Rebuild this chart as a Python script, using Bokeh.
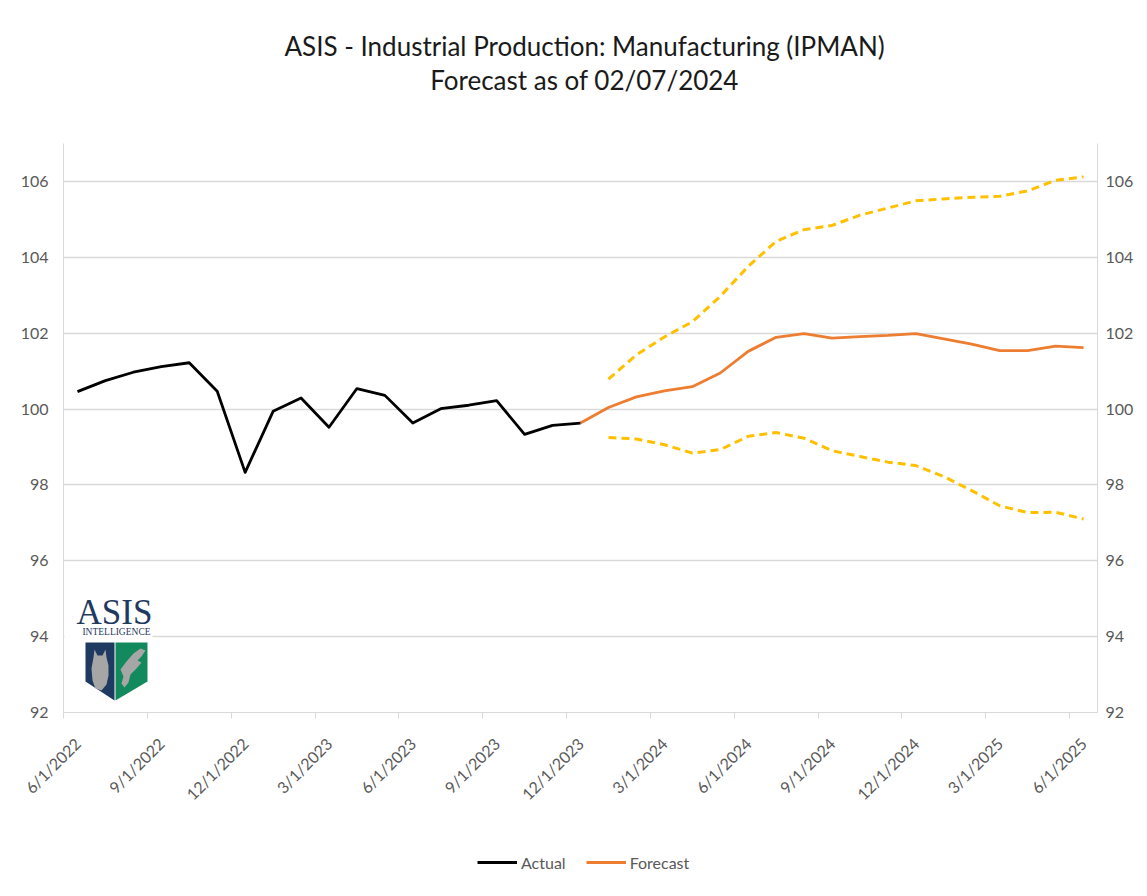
import math
import pandas as pd
from bokeh.plotting import figure
from bokeh.layouts import column
from bokeh.models import (FixedTicker, LinearAxis, Range1d, Legend, LegendItem,
                          BoxAnnotation, Label, PolyAnnotation)
from bokeh.embed import file_html
from bokeh.resources import INLINE

# ---------------- data ----------------
actual_dates = ["2022-06-01", "2022-07-01", "2022-08-01", "2022-09-01", "2022-10-01",
                "2022-11-01", "2022-12-01", "2023-01-01", "2023-02-01", "2023-03-01",
                "2023-04-01", "2023-05-01", "2023-06-01", "2023-07-01", "2023-08-01",
                "2023-09-01", "2023-10-01", "2023-11-01", "2023-12-01"]
actual_values = [100.46, 100.75, 100.97, 101.12, 101.22, 100.47, 98.33, 99.94, 100.29,
                 99.52, 100.54, 100.36, 99.63, 100.01, 100.10, 100.22, 99.33, 99.57, 99.63]

forecast_dates = ["2023-12-01", "2024-01-01", "2024-02-01", "2024-03-01", "2024-04-01",
                  "2024-05-01", "2024-06-01", "2024-07-01", "2024-08-01", "2024-09-01",
                  "2024-10-01", "2024-11-01", "2024-12-01", "2025-01-01", "2025-02-01",
                  "2025-03-01", "2025-04-01", "2025-05-01", "2025-06-01"]
forecast_values = [99.63, 100.04, 100.32, 100.48, 100.59, 100.95, 101.52, 101.89, 101.99,
                   101.87, 101.91, 101.94, 101.99, 101.85, 101.71, 101.54, 101.54, 101.66, 101.62]

bound_dates = forecast_dates[1:]
upper_values = [100.79, 101.43, 101.90, 102.30, 102.97, 103.76, 104.42, 104.73, 104.84,
                105.11, 105.30, 105.49, 105.54, 105.58, 105.61, 105.75, 106.03, 106.12]
lower_values = [99.25, 99.21, 99.06, 98.84, 98.93, 99.28, 99.38, 99.23, 98.90,
                98.75, 98.60, 98.51, 98.22, 97.85, 97.45, 97.27, 97.28, 97.10]

tick_labels = ["6/1/2022", "9/1/2022", "12/1/2022", "3/1/2023", "6/1/2023", "9/1/2023",
               "12/1/2023", "3/1/2024", "6/1/2024", "9/1/2024", "12/1/2024", "3/1/2025",
               "6/1/2025"]
y_ticks = [92, 94, 96, 98, 100, 102, 104, 106]

title_line1 = "ASIS - Industrial Production: Manufacturing (IPMAN)"
title_line2 = "Forecast as of 02/07/2024"
legend_labels = ["Actual", "Forecast"]

# ---------------- helpers ----------------
START = pd.Timestamp("2022-06-01")


def month_pos(dates):
    # monthly slot centre, Excel date-axis style
    out = []
    for d in dates:
        t = pd.Timestamp(d)
        out.append((t.year - START.year) * 12 + (t.month - START.month) + 0.5)
    return out


tick_dates = [START + pd.DateOffset(months=3 * i) for i in range(len(tick_labels))]
label_pos = month_pos(tick_dates)            # labels sit at the slot centre
tick_pos = [v - 0.5 for v in label_pos]      # tick marks at the slot boundary

FONT = "Lato"
GRAY = "#595959"
LIGHT = "#d9d9d9"
W = 1147
TITLE_H = 133
MAIN_H = 707
LEG_H = 56

# ---------------- title block ----------------
tf = figure(width=W, height=TITLE_H, output_backend="svg", toolbar_location=None,
            x_range=Range1d(0, W), y_range=Range1d(0, TITLE_H),
            x_axis_type=None, y_axis_type=None, min_border=0)
tf.outline_line_color = None
tf.grid.visible = False
for txt, yc in ((title_line1, TITLE_H - 45), (title_line2, TITLE_H - 79)):
    tf.add_layout(Label(x=578, y=yc, text=txt, text_align="center", text_baseline="middle",
                        text_font=FONT, text_font_size="26px", text_color="#1a1a1a"))

# ---------------- main chart ----------------
p = figure(width=W, height=MAIN_H, output_backend="svg", toolbar_location=None,
           x_range=Range1d(0, 37), y_range=Range1d(92, 107),
           min_border_left=63, min_border_right=50, min_border_top=10, min_border_bottom=128)
p.outline_line_color = None
p.background_fill_color = "white"
p.border_fill_color = "white"

# axis carrying the line and the tick marks
xa = p.xaxis[0]
xa.ticker = FixedTicker(ticks=tick_pos)
xa.major_label_overrides = {tp: "" for tp in tick_pos}
xa.major_label_text_font_size = "1px"
xa.major_label_standoff = 0
xa.axis_line_color = LIGHT
xa.major_tick_line_color = LIGHT
xa.major_tick_in = 0
xa.major_tick_out = 6
xa.minor_tick_line_color = None
xa.minor_tick_out = 0

# axis carrying the rotated date labels
xl = LinearAxis(ticker=FixedTicker(ticks=label_pos),
                major_label_overrides={lp: lab for lp, lab in zip(label_pos, tick_labels)})
xl.major_label_orientation = math.pi / 4
xl.major_label_text_font = FONT
xl.major_label_text_font_size = "16px"
xl.major_label_text_color = GRAY
xl.axis_line_color = None
xl.major_tick_line_color = None
xl.major_tick_in = 0
xl.major_tick_out = 0
xl.minor_tick_line_color = None
xl.minor_tick_in = 0
xl.minor_tick_out = 0
xl.major_label_standoff = 22
p.add_layout(xl, "below")

ya = p.yaxis[0]
ya.ticker = FixedTicker(ticks=y_ticks)
ya.major_label_standoff = 15
yr = LinearAxis(ticker=FixedTicker(ticks=y_ticks))
yr.major_label_standoff = 8
p.add_layout(yr, "right")
for ax in (ya, yr):
    ax.axis_line_color = LIGHT
    ax.major_tick_line_color = None
    ax.major_tick_in = 0
    ax.major_tick_out = 0
    ax.minor_tick_line_color = None
    ax.minor_tick_in = 0
    ax.minor_tick_out = 0
    ax.major_label_text_font = FONT
    ax.major_label_text_font_size = "16px"
    ax.major_label_text_color = GRAY

p.xgrid.visible = False
p.ygrid.ticker = FixedTicker(ticks=y_ticks)
p.ygrid.grid_line_color = LIGHT
p.ygrid.grid_line_width = 1.5

p.line(month_pos(bound_dates), upper_values, line_color="#FFC000", line_width=3,
       line_dash="8 5")
p.line(month_pos(bound_dates), lower_values, line_color="#FFC000", line_width=3,
       line_dash="8 5")
p.line(month_pos(forecast_dates), forecast_values, line_color="#ED7D31", line_width=2.8,
       line_join="round")
p.line(month_pos(actual_dates), actual_values, line_color="black", line_width=2.8,
       line_join="round")

# ---------------- logo (decoration, pixel-placed) ----------------


def px(x):
    return (x - 63) / 27.95


def py(y):
    return 100 - (y - 408.5) / 37.93


p.add_layout(BoxAnnotation(left=px(64), right=px(152), bottom=py(707), top=py(585),
                           fill_color="white", fill_alpha=1, line_color=None))
navy = "#1f3a60"
green = "#138a5e"
shield_l = [(85, 642), (114, 642), (114, 700), (85, 681)]
shield_r = [(115, 642), (147, 642), (147, 681), (115, 700)]
for pts, col in ((shield_l, navy), (shield_r, green)):
    p.add_layout(PolyAnnotation(xs=[px(a) for a, b in pts], ys=[py(b) for a, b in pts],
                                fill_color=col, fill_alpha=1, line_color=None))
owl = [(94, 649), (97, 655), (102, 655), (105, 649), (106, 657), (108, 665), (108, 675),
       (106, 684), (101, 690), (95, 688), (92, 680), (91, 668), (93, 657)]
eagle = [(120, 669), (126, 661), (133, 653), (140, 648), (145, 650), (141, 656), (137, 660),
         (141, 662), (136, 668), (130, 674), (128, 682), (124, 687), (121, 683), (123, 676)]
for pts in (owl, eagle):
    p.add_layout(PolyAnnotation(xs=[px(a) for a, b in pts], ys=[py(b) for a, b in pts],
                                fill_color="#a6a6a6", fill_alpha=1, line_color=None))
p.add_layout(Label(x=px(114), y=py(612), text="ASIS", text_align="center",
                   text_baseline="middle", text_font="Liberation Serif",
                   text_font_size="35px", text_color=navy))
p.add_layout(Label(x=px(116), y=py(631.5), text="INTELLIGENCE", text_align="center",
                   text_baseline="middle", text_font="Liberation Serif",
                   text_font_size="9.5px", text_color=navy))

# ---------------- legend block ----------------
lf = figure(width=W, height=LEG_H, output_backend="svg", toolbar_location=None,
            x_range=Range1d(0, 1), y_range=Range1d(0, 1),
            x_axis_type=None, y_axis_type=None, min_border=0)
lf.outline_line_color = None
lf.grid.visible = False
# legend proxies: same series, lying outside this strip's visible range
l_act = lf.line(month_pos(actual_dates), actual_values, line_color="black", line_width=2.8)
l_fc = lf.line(month_pos(forecast_dates), forecast_values, line_color="#ED7D31",
               line_width=2.8)
legend = Legend(items=[LegendItem(label=legend_labels[0], renderers=[l_act]),
                       LegendItem(label=legend_labels[1], renderers=[l_fc])],
                location=(414, 24), orientation="horizontal", padding=4, margin=0,
                label_text_font=FONT, label_text_font_size="16px", label_text_color=GRAY,
                border_line_color=None, background_fill_alpha=0, glyph_width=40,
                label_standoff=4, spacing=20)
lf.add_layout(legend, "center")

layout = column(tf, p, lf, spacing=0)
open("out.html", "w").write(file_html(layout, INLINE))
